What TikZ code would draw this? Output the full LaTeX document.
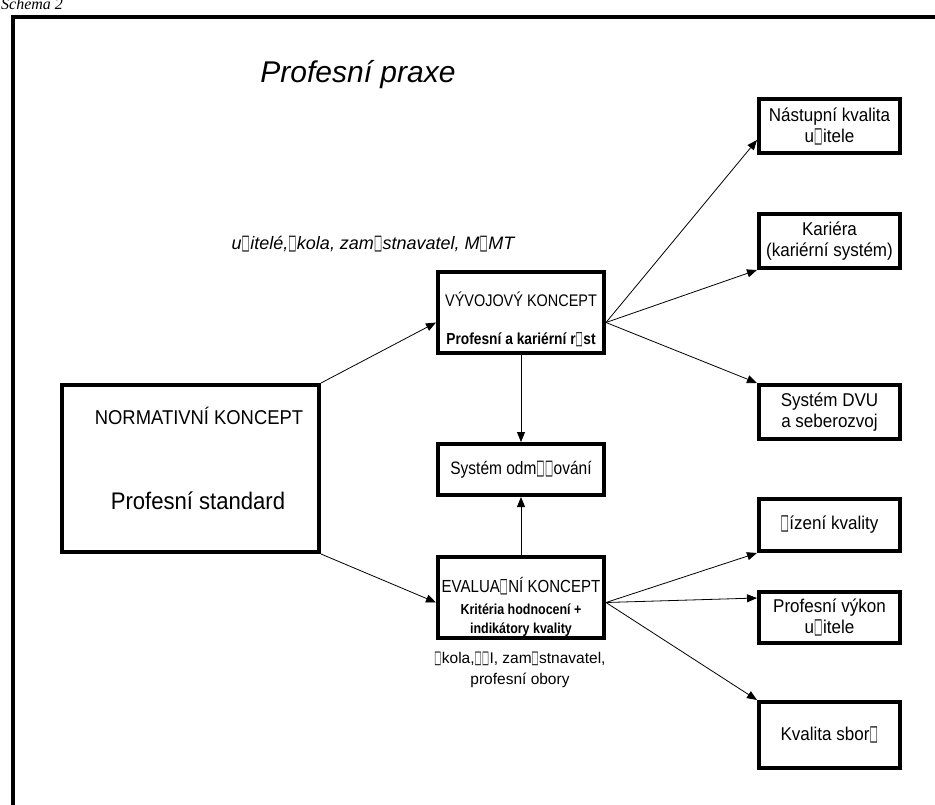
\documentclass[tikz,border=0pt]{standalone}
\usepackage{graphicx}
\usepackage{fontspec}
\setmainfont{Liberation Sans}
\newfontfamily\narrowf{Liberation Sans}[FakeStretch=0.86]
\newfontfamily\midf{Liberation Sans}[FakeStretch=0.92]
\newfontfamily\capfont{Liberation Serif}
\newfontfamily\symf{DejaVu Sans}
\usetikzlibrary{arrows.meta}
% placeholder glyph for characters the source font could not show
\newcommand\nog{\makebox[0.48em][l]{\resizebox{0.45em}{0.74em}{\symf □}}}
\newcommand\fsz[2]{\fontsize{#1}{#2}\selectfont}
\tikzset{
  box/.style={draw, line width=4pt, inner sep=0pt, align=center},
  arr/.style={line width=0.8pt, -{Triangle[length=10pt,width=8pt]}},
  lab/.style={inner sep=0pt, anchor=base},
  rbox/.style={box, minimum width=141pt, font=\midf\fsz{18.5}{21}},
  cbox/.style={box, minimum width=166pt},
}
\begin{document}
\begin{tikzpicture}[x=1pt, y=-1pt]
\useasboundingbox (0,0) rectangle (935,804);
\clip (0,0) rectangle (935,804);

% caption and outer frame
\node[lab, anchor=base west, font=\capfont\itshape\fsz{16}{19}] (schema) at (1,9) {Schema 2};
\draw[line width=4pt, line join=miter] (13,810) -- (13,17) -- (940,17);

% title
\node[lab, font=\itshape\fsz{30}{36}] (title) at (358,82) {Profesní praxe};

% central concept boxes
\node[box, minimum width=257pt, minimum height=167pt] (norm) at (190.5,468.5) {};
\node[lab, font=\midf\fsz{20}{24}] (normA) at (199,424) {NORMATIVNÍ KONCEPT};
\node[lab, font=\midf\fsz{24}{28}] (normB) at (198,509) {Profesní standard};

\node[cbox, minimum height=81pt] (vyv) at (521,312.5) {};
\node[lab, font=\narrowf\fsz{16.8}{20}] (vyvA) at (521,306) {VÝVOJOVÝ KONCEPT};
\node[lab, font=\narrowf\bfseries\fsz{16}{19}] (vyvB) at (521,344) {Profesní a kariérní r\nog st};

\node[cbox, minimum height=51pt, font=\narrowf\fsz{18}{21}] (odm) at (521,469.5) {Systém odm\nog\nog ování};

\node[cbox, minimum height=81pt] (eval) at (521,597.5) {};
\node[lab, font=\narrowf\fsz{17.5}{21}] (evalA) at (521,592) {EVALUA\nog NÍ KONCEPT};
\node[lab, font=\narrowf\bfseries\fsz{14.5}{17}] (evalB) at (521,614) {Kritéria hodnocení +};
\node[lab, font=\narrowf\bfseries\fsz{14.5}{17}] (evalC) at (521,633) {indikátory kvality};

% stakeholder labels
\node[lab, font=\itshape\fsz{18}{22}] (topLab) at (373,249) {u\nog itelé,\nog kola, zam\nog stnavatel, M\nog MT};
\node[inner sep=0pt, align=center, font=\fsz{15.5}{21}] (botLab) at (520,670) {\nog kola,\nog\nog I, zam\nog stnavatel,\\profesní obory};

% outcome boxes
\node[rbox, minimum height=54pt] (nast) at (829.5,126) {Nástupní kvalita\\u\nog itele};
\node[rbox, minimum height=54pt] (kar) at (829.5,241) {Kariéra\\(kariérní systém)};
\node[rbox, minimum height=54pt] (dvu) at (829.5,412) {Systém DVU\\a seberozvoj};
\node[rbox, minimum height=52pt] (riz) at (829.5,525) {\nog ízení kvality};
\node[rbox, minimum height=51pt] (vykon) at (829.5,617.5) {Profesní výkon\\u\nog itele};
\node[rbox, minimum height=66pt] (kval) at (829.5,735) {\raisebox{-6pt}{Kvalita sbor\nog}};

% connectors
\draw[arr] (norm.north east) -- ([yshift=-10pt]vyv.west);
\draw[arr] (norm.south east) -- ([yshift=-5pt]eval.west);
\draw[arr] (vyv.south) -- (odm.north);
\draw[arr] (eval.north) -- (odm.south);

\coordinate (vyvR) at ([yshift=-10pt]vyv.east);
\draw[arr] (vyvR) -- ([yshift=-14pt]nast.west);
\draw[arr] (vyvR) -- (kar.south west);
\draw[arr] (vyvR) -- (dvu.north west);

\coordinate (evalR) at ([yshift=-5pt]eval.east);
\draw[arr] (evalR) -- (riz.south west);
\draw[arr] (evalR) -- ([yshift=-8pt]vykon.north west);
\draw[arr] (evalR) -- (kval.north west);
\end{tikzpicture}
\end{document}
